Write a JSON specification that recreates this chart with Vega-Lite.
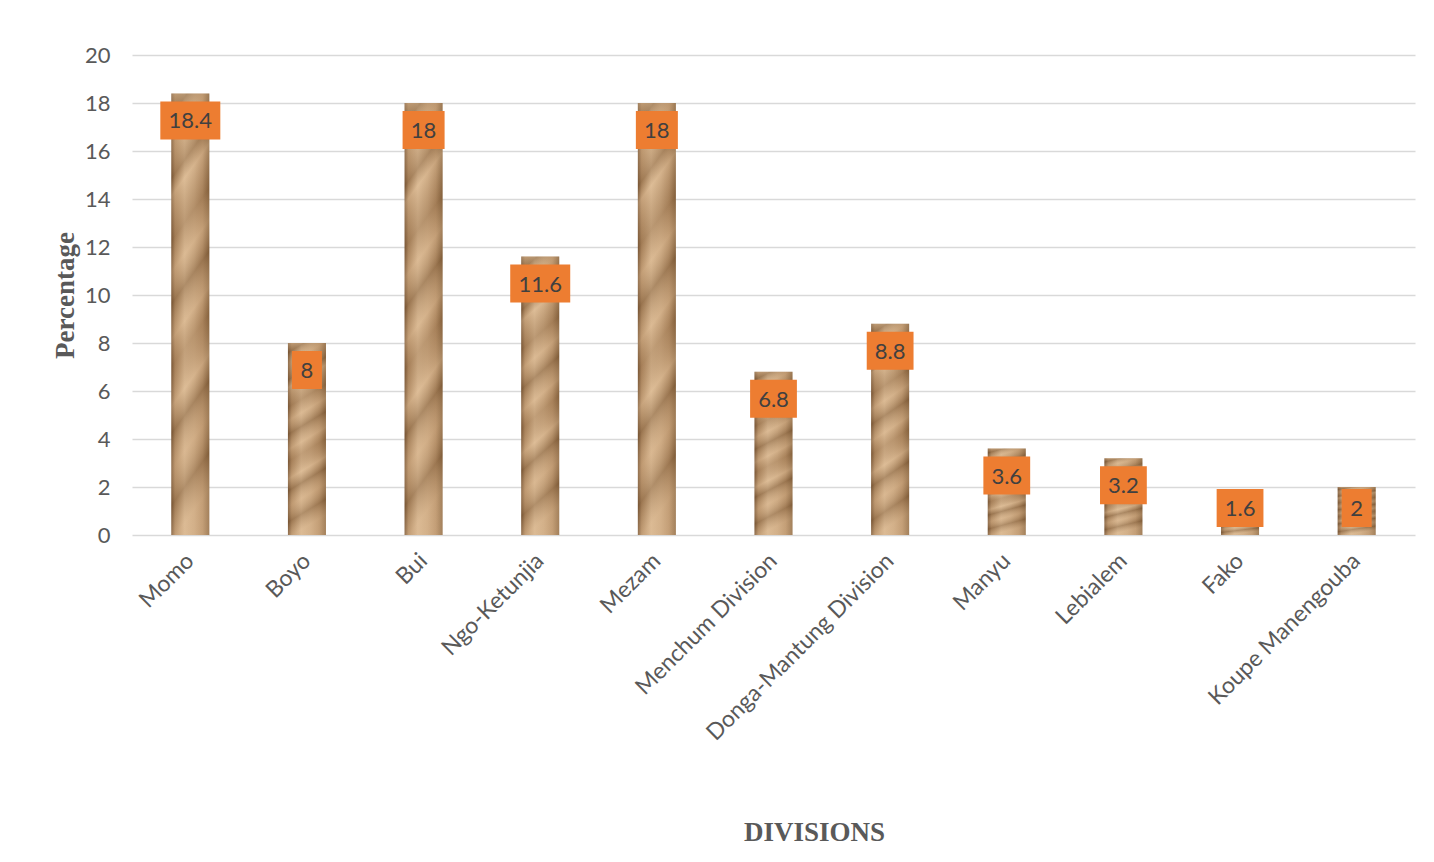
{
  "$schema": "https://vega.github.io/schema/vega-lite/v6.json",
  "autosize": "none",
  "width": 1283,
  "height": 480,
  "padding": {"left": 132, "top": 55, "right": 19, "bottom": 327},
  "background": "#FFFFFF",
  "config": {
    "view": {"stroke": null},
    "font": "Lato"
  },
  "data": {
    "values": [
      {"division": "Momo", "pct": 18.4},
      {"division": "Boyo", "pct": 8},
      {"division": "Bui", "pct": 18},
      {"division": "Ngo-Ketunjia", "pct": 11.6},
      {"division": "Mezam", "pct": 18},
      {"division": "Menchum Division", "pct": 6.8},
      {"division": "Donga-Mantung Division", "pct": 8.8},
      {"division": "Manyu", "pct": 3.6},
      {"division": "Lebialem", "pct": 3.2},
      {"division": "Fako", "pct": 1.6},
      {"division": "Koupe Manengouba", "pct": 2}
    ]
  },
  "encoding": {
    "x": {
      "field": "division",
      "type": "nominal",
      "sort": null,
      "scale": {"paddingInner": 0.674, "paddingOuter": 0.337},
      "axis": {
        "title": "DIVISIONS",
        "titleFont": "Liberation Serif",
        "titleFontSize": 27,
        "titleFontWeight": "bold",
        "titleColor": "#595959",
        "titleX": 682,
        "titleY": 305,
        "titleAlign": "center",
        "titleBaseline": "alphabetic",
        "labelAngle": -45,
        "labelAlign": "right",
        "labelBaseline": "middle",
        "labelFont": "Lato",
        "labelFontSize": 23,
        "labelColor": "#595959",
        "labelPadding": 22,
        "labelOverlap": false,
        "labelLimit": 400,
        "domain": false,
        "ticks": false,
        "grid": false
      }
    }
  },
  "layer": [
    {
      "mark": {
        "type": "bar",
        "color": {
          "gradient": "linear",
          "x1": 0, "y1": 0, "x2": 1, "y2": 0,
          "stops": [
            {"offset": 0, "color": "#7F5B3A"},
            {"offset": 0.1, "color": "#B48C63"},
            {"offset": 0.35, "color": "#D4B18A"},
            {"offset": 0.6, "color": "#C9A47C"},
            {"offset": 0.82, "color": "#B68E65"},
            {"offset": 1, "color": "#8D6842"}
          ]
        }
      },
      "encoding": {
        "y": {
          "field": "pct",
          "type": "quantitative",
          "scale": {"domain": [0, 20], "nice": false},
          "axis": {
            "title": "Percentage",
            "titleFont": "Liberation Serif",
            "titleFontSize": 27,
            "titleFontWeight": "bold",
            "titleColor": "#595959",
            "titleX": -59,
            "titleY": 240,
            "titleAngle": -90,
            "titleAlign": "center",
            "titleBaseline": "alphabetic",
            "values": [0, 2, 4, 6, 8, 10, 12, 14, 16, 18, 20],
            "labelFont": "Lato",
            "labelFontSize": 22,
            "labelColor": "#595959",
            "labelPadding": 22,
            "domain": false,
            "ticks": false,
            "grid": true,
            "gridColor": "#D9D9D9",
            "gridWidth": 1.6
          }
        }
      }
    },
    {
      "mark": {
        "type": "bar",
        "color": {
          "gradient": "linear",
          "x1": 0, "y1": 0, "x2": 0.12, "y2": 1,
          "stops": [
            {"offset": 0, "color": "rgba(250,225,190,0.3)"},
            {"offset": 0.05, "color": "rgba(90,60,30,0.3)"},
            {"offset": 0.11, "color": "rgba(250,225,190,0.15)"},
            {"offset": 0.19, "color": "rgba(90,60,30,0.25)"},
            {"offset": 0.23, "color": "rgba(250,225,190,0.25)"},
            {"offset": 0.33, "color": "rgba(90,60,30,0.2)"},
            {"offset": 0.4, "color": "rgba(250,225,190,0.2)"},
            {"offset": 0.47, "color": "rgba(90,60,30,0.3)"},
            {"offset": 0.55, "color": "rgba(250,225,190,0.2)"},
            {"offset": 0.61, "color": "rgba(90,60,30,0.15)"},
            {"offset": 0.7, "color": "rgba(250,225,190,0.25)"},
            {"offset": 0.76, "color": "rgba(90,60,30,0.3)"},
            {"offset": 0.84, "color": "rgba(250,225,190,0.15)"},
            {"offset": 0.92, "color": "rgba(90,60,30,0.28)"},
            {"offset": 1, "color": "rgba(250,225,190,0.2)"}
          ]
        }
      },
      "encoding": {
        "y": {"field": "pct", "type": "quantitative"}
      }
    },
    {
      "transform": [{"filter": "datum.pct >= 2.25"}],
      "encoding": {
        "y": {"field": "pct", "type": "quantitative"}
      },
      "layer": [
        {
          "mark": {"type": "point", "filled": true, "color": "#ED7D31", "opacity": 1, "size": 3600, "strokeWidth": 0, "yOffset": 27},
          "encoding": {
            "shape": {
              "condition": [
                {"test": "length(toString(datum.pct)) == 1", "value": "M-0.5,-0.633L0.5,-0.633L0.5,0.633L-0.5,0.633Z"},
                {"test": "length(toString(datum.pct)) == 2", "value": "M-0.7,-0.633L0.7,-0.633L0.7,0.633L-0.7,0.633Z"},
                {"test": "length(toString(datum.pct)) == 3", "value": "M-0.78,-0.633L0.78,-0.633L0.78,0.633L-0.78,0.633Z"}
              ],
              "value": "M-1,-0.633L1,-0.633L1,0.633L-1,0.633Z"
            }
          }
        },
        {
          "mark": {"type": "text", "font": "Lato", "fontSize": 22, "color": "#404040", "align": "center", "baseline": "middle", "yOffset": 28},
          "encoding": {
            "text": {"field": "pct", "type": "quantitative", "format": ""}
          }
        }
      ]
    },
    {
      "transform": [{"filter": "datum.pct < 2.25"}],
      "encoding": {
        "y": {"datum": 1.125, "type": "quantitative"}
      },
      "layer": [
        {
          "mark": {"type": "point", "filled": true, "color": "#ED7D31", "opacity": 1, "size": 3600, "strokeWidth": 0},
          "encoding": {
            "shape": {
              "condition": [
                {"test": "length(toString(datum.pct)) == 1", "value": "M-0.5,-0.633L0.5,-0.633L0.5,0.633L-0.5,0.633Z"},
                {"test": "length(toString(datum.pct)) == 2", "value": "M-0.7,-0.633L0.7,-0.633L0.7,0.633L-0.7,0.633Z"},
                {"test": "length(toString(datum.pct)) == 3", "value": "M-0.78,-0.633L0.78,-0.633L0.78,0.633L-0.78,0.633Z"}
              ],
              "value": "M-1,-0.633L1,-0.633L1,0.633L-1,0.633Z"
            }
          }
        },
        {
          "mark": {"type": "text", "font": "Lato", "fontSize": 22, "color": "#404040", "align": "center", "baseline": "middle", "yOffset": 1},
          "encoding": {
            "text": {"field": "pct", "type": "quantitative", "format": ""}
          }
        }
      ]
    }
  ]
}
